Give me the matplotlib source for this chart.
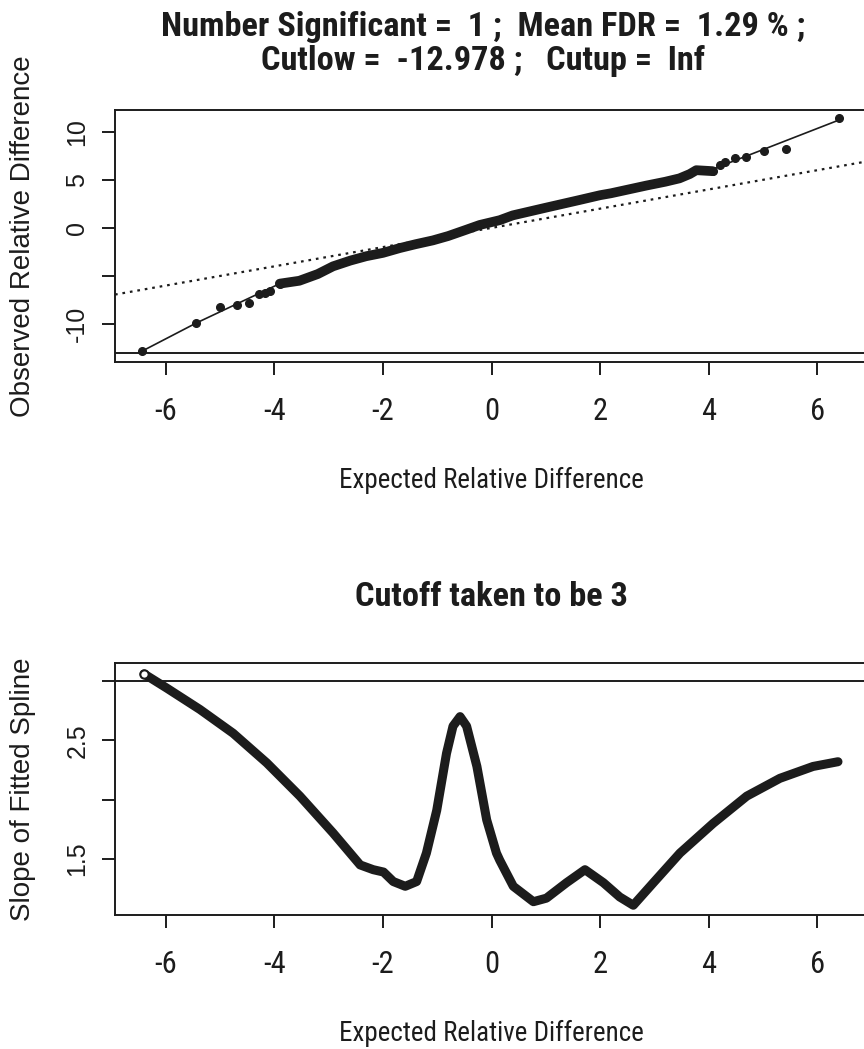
import matplotlib
matplotlib.use("Agg")
import matplotlib.pyplot as plt
from matplotlib import font_manager as fm

# ---- data ----
cutlow = -12.978
cutoff = 3

# top panel: tail points (sparse) and the dense band of points
tail_x = [-6.43, -5.44, -5.01, -4.68, -4.46, -4.29, -4.18, -4.08, -3.90,
          4.07, 4.20, 4.30, 4.48, 4.69, 5.01, 5.43, 6.39]
tail_y = [-12.8, -9.9, -8.25, -8.0, -7.8, -6.9, -6.8, -6.6, -5.8,
          5.9, 6.5, 6.9, 7.25, 7.4, 8.0, 8.2, 11.4]

band_x = [-3.90, -3.54, -3.20, -2.92, -2.60, -2.31, -2.00, -1.69, -1.40, -1.08,
          -0.80, -0.47, -0.22, 0.15, 0.39, 1.00, 1.62, 2.00, 2.20, 2.85, 3.20,
          3.46, 3.65, 3.77, 4.07]
band_y = [-5.8, -5.5, -4.8, -4.0, -3.4, -2.95, -2.6, -2.1, -1.7, -1.3,
          -0.85, -0.2, 0.3, 0.8, 1.3, 2.1, 2.9, 3.4, 3.6, 4.4, 4.8,
          5.15, 5.6, 6.0, 5.9]

fit_x = [-6.43, -5.44, -3.90, -2.31, -1.08, 0.0, 1.62, 2.85, 3.77, 4.07, 6.39]
fit_y = [-12.8, -9.9, -5.8, -2.95, -1.3, 0.5, 2.9, 4.4, 6.0, 6.1, 11.2]

# bottom panel: slope of the fitted spline
slope_x = [-6.40, -5.98, -5.37, -4.76, -4.14, -3.53, -2.92, -2.42, -2.18, -1.99,
           -1.81, -1.59, -1.38, -1.20, -1.01, -0.83, -0.71, -0.58, -0.46, -0.27,
           -0.09, 0.09, 0.15, 0.40, 0.77, 1.01, 1.38, 1.72, 2.06, 2.36,
           2.61, 2.98, 3.47, 4.08, 4.70, 5.31, 5.92, 6.38]
slope_y = [3.06, 2.94, 2.76, 2.56, 2.31, 2.03, 1.72, 1.45, 1.41, 1.39,
           1.31, 1.27, 1.31, 1.55, 1.91, 2.39, 2.62, 2.70, 2.62, 2.28,
           1.83, 1.55, 1.49, 1.27, 1.14, 1.17, 1.30, 1.41, 1.30, 1.18,
           1.11, 1.30, 1.55, 1.80, 2.03, 2.18, 2.28, 2.32]

x_ticks = [-6, -4, -2, 0, 2, 4, 6]
top_yticks = [-10, -5, 0, 5, 10]
top_yticklabels = ["-10", "", "0", "5", "10"]
bot_yticks = [1.5, 2.0, 2.5, 3.0]
bot_yticklabels = ["1.5", "", "2.5", ""]

title_top = "Number Significant =  1 ;  Mean FDR =  1.29 % ;\nCutlow =  -12.978 ;   Cutup =  Inf"
title_bot = "Cutoff taken to be 3"
xlab = "Expected Relative Difference"

# pick a narrow face if the box has one
names = {(f.name, f.stretch) for f in fm.fontManager.ttflist}
fam_names = {n for n, _ in names}
NARROW = dict(family=["Liberation Sans", "DejaVu Sans"])
for cand in ["Liberation Sans Narrow", "Arial Narrow", "Roboto Condensed",
             "Open Sans Condensed", "Noto Sans Condensed"]:
    if cand in fam_names:
        NARROW = dict(family=[cand, "DejaVu Sans"])
        break
else:
    if any(n == "DejaVu Sans" and s in ("condensed", "semi-condensed") for n, s in names):
        NARROW = dict(family=["DejaVu Sans"], stretch="condensed")
    elif any(s in ("condensed", "semi-condensed") for n, s in names):
        nm = sorted(n for n, s in names if s in ("condensed", "semi-condensed"))[0]
        NARROW = dict(family=[nm, "DejaVu Sans"], stretch="condensed")
WIDE = ["Liberation Sans", "DejaVu Sans"]
INK = "#1c1c1c"

W, H = 864, 1049
fig = plt.figure(figsize=(W / 100, H / 100), dpi=100)
fig.patch.set_facecolor("white")
renderer = fig.canvas.get_renderer()


def fit_width(txt, target_px):
    # shrink / grow a text so its width matches the picture
    bb = txt.get_window_extent(renderer)
    txt.set_fontsize(txt.get_fontsize() * target_px / bb.width)


def px_axes(left, top, right, bottom):
    return fig.add_axes([left / W, 1 - bottom / H, (right - left) / W, (bottom - top) / H])


def style(ax, yticks, yticklabels):
    for s in ax.spines.values():
        s.set_linewidth(1.4)
        s.set_color(INK)
    ax.set_xticks(x_ticks)
    ax.set_xticklabels([str(v) for v in x_ticks], fontsize=22, color=INK, **NARROW)
    ax.set_yticks(yticks)
    ax.set_yticklabels(yticklabels, family=WIDE, fontsize=18, color=INK,
                       rotation=90, va="center")
    ax.tick_params(axis="both", length=9.5, width=1.4, color=INK, direction="out")
    ax.tick_params(axis="x", pad=16)
    ax.tick_params(axis="y", pad=9)
    ax.set_xlabel(xlab, fontsize=20, color=INK, **NARROW)
    ax.xaxis.set_label_coords(0.5, -(480 - 362) / 252)
    ax.xaxis.label.set_va("center")
    fit_width(ax.xaxis.label, 305)


# ---- top panel ----
ax1 = px_axes(115, 110, 867, 362)
ax1.set_xlim(-6.935, 6.914)
ax1.set_ylim(-13.95, 12.26)
ax1.axline((0, 0), slope=1, color=INK, lw=1.6, ls=(0, (1.2, 2.2)))
ax1.axhline(cutlow, color=INK, lw=1.4)
ax1.plot(fit_x, fit_y, color=INK, lw=1.2)
ax1.plot(band_x, band_y, color=INK, lw=7, solid_capstyle="round", solid_joinstyle="round")
ax1.plot(tail_x, tail_y, "o", color=INK, ms=5.5)
style(ax1, top_yticks, top_yticklabels)
ax1.set_ylabel("Observed Relative Difference", family=WIDE, fontsize=20, color=INK)
ax1.yaxis.set_label_coords((23 - 115) / 752, 0.5)
ax1.yaxis.label.set_va("center")
t1 = ax1.set_title(title_top, fontweight="bold", fontsize=24, color=INK,
                   linespacing=1.05, y=(362 - 44) / 252, pad=0, **NARROW)
t1.set_va("center")
t1.set_x((483 - 115) / 752)
fit_width(t1, 647)

# ---- bottom panel ----
ax2 = px_axes(115, 663, 867, 915)
ax2.set_xlim(-6.935, 6.914)
ax2.set_ylim(1.028, 3.152)
ax2.axhline(cutoff, color=INK, lw=1.4)
ax2.plot(slope_x, slope_y, color=INK, lw=6.5, solid_capstyle="round", solid_joinstyle="round")
ax2.plot(slope_x[:1], slope_y[:1], "o", mfc="white", mec=INK, ms=6, mew=1.5)
style(ax2, bot_yticks, bot_yticklabels)
ax2.set_ylabel("Slope of Fitted Spline", family=WIDE, fontsize=20, color=INK)
ax2.yaxis.set_label_coords((23 - 115) / 752, 0.5)
ax2.yaxis.label.set_va("center")
t2 = ax2.set_title(title_bot, fontweight="bold", fontsize=24, color=INK,
                   y=(915 - 597) / 252, pad=0, **NARROW)
t2.set_va("center")
fit_width(t2, 275)

fig.savefig("out.png", dpi=100, facecolor="white")
